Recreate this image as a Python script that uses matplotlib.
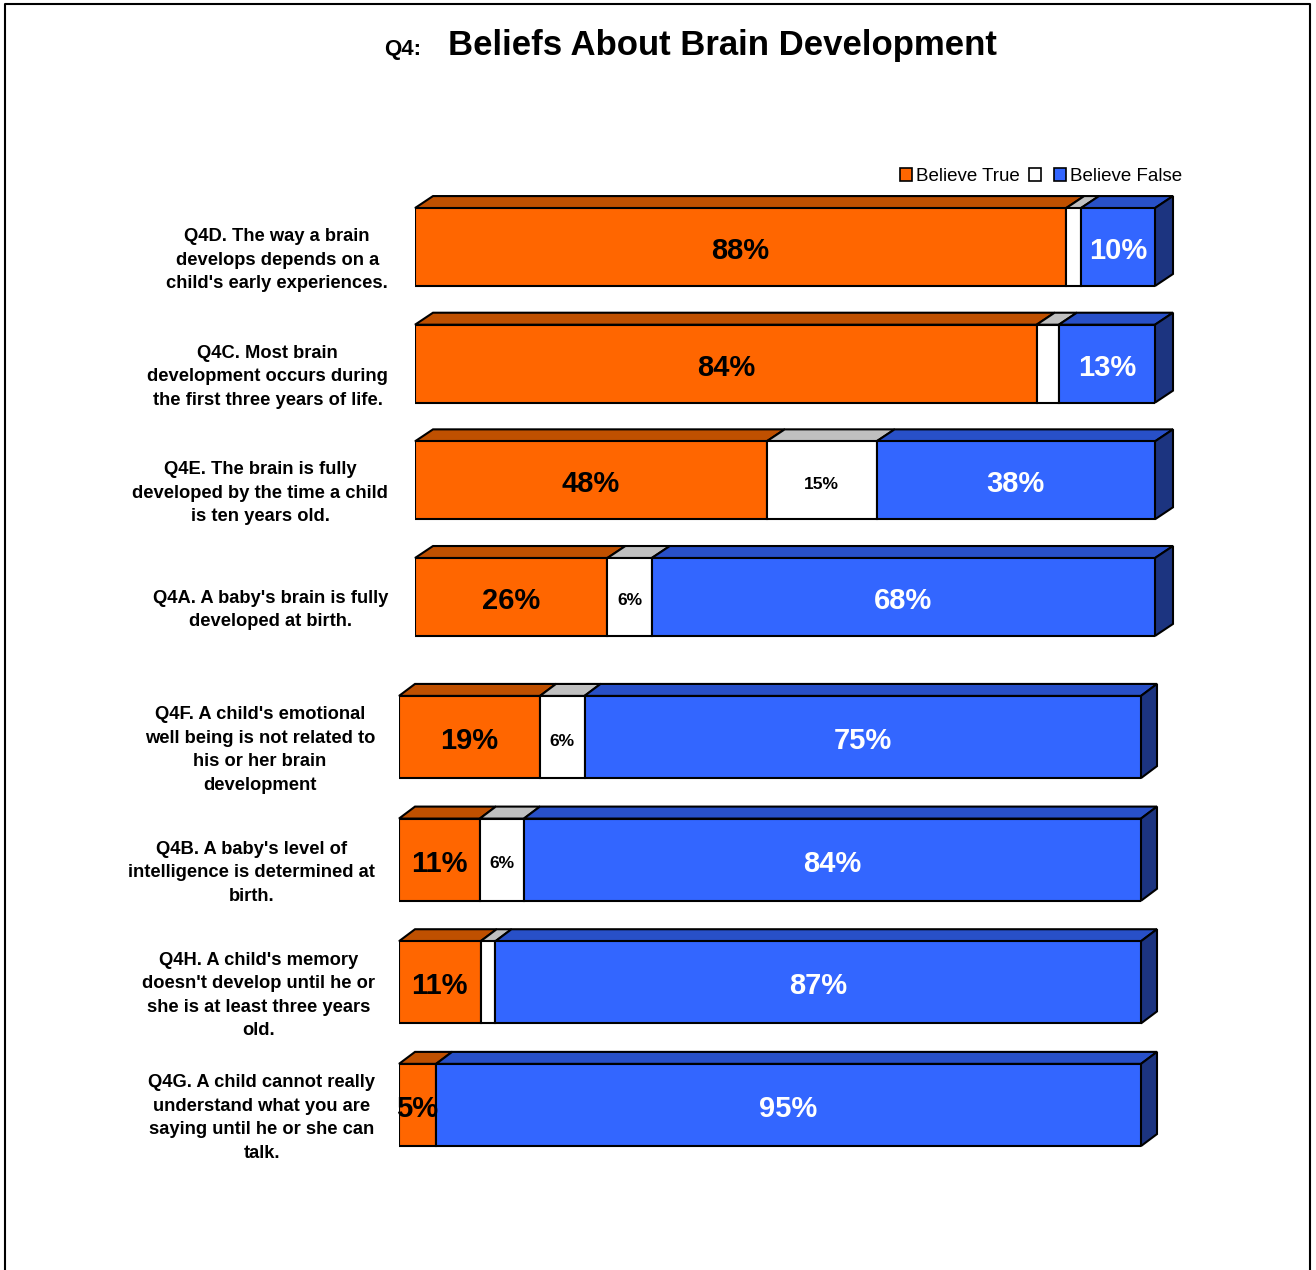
import matplotlib
matplotlib.use('Agg')
import matplotlib.pyplot as plt
from matplotlib.patches import Polygon, Patch
from matplotlib.lines import Line2D
from matplotlib import transforms

plt.rcParams['font.family'] = ['Liberation Sans', 'DejaVu Sans']

# survey items, in the order they are drawn (top to bottom)
questions = [
    "Q4D. The way a brain\ndevelops depends on a\nchild's early experiences.",
    "Q4C. Most brain\ndevelopment occurs during\nthe first three years of life.",
    "Q4E. The brain is fully\ndeveloped by the time a child\nis ten years old.",
    "Q4A. A baby's brain is fully\ndeveloped at birth.",
    "Q4F. A child's emotional\nwell being is not related to\nhis or her brain\ndevelopment",
    "Q4B. A baby's level of\nintelligence is determined at\nbirth.",
    "Q4H. A child's memory\ndoesn't develop until he or\nshe is at least three years\nold.",
    "Q4G. A child cannot really\nunderstand what you are\nsaying until he or she can\ntalk.",
]
true_pct = [88, 84, 48, 26, 19, 11, 11, 5]
mid_pct = [2, 3, 15, 6, 6, 6, 2, 0]
false_pct = [10, 13, 38, 68, 75, 84, 87, 95]

top_group = [0, 1, 2, 3]
bottom_group = [4, 5, 6, 7]

front = ['#FF6600', '#FFFFFF', '#3366FF']
roof = ['#BF5000', '#C0C0C0', '#2850C8']
side_color = '#1C3480'
text_color = ['black', 'black', 'white']

W, H = 1316, 1270
fig = plt.figure(figsize=(W / 100, H / 100), dpi=100)


def panel(left, top, right, bottom):
    return fig.add_axes([left / W, 1 - bottom / H, (right - left) / W, (bottom - top) / H])


def draw_group(ax, idx, dx_px, dy_px, bar_h, label_dx_px):
    n = len(idx)
    ax.set_xlim(0, 100)
    ax.set_ylim(n - 0.5, -0.5)
    ax.axis('off')
    box = ax.get_position()
    dx = dx_px * 100 / (box.width * W)
    dy = dy_px * n / (box.height * H)
    lab_tr = transforms.blended_transform_factory(ax.transAxes, ax.transData) + \
        transforms.ScaledTranslation(label_dx_px / 100, -13 / 100, fig.dpi_scale_trans)
    val_tr = ax.transData + transforms.ScaledTranslation(0, -4 / 100, fig.dpi_scale_trans)
    for row, i in enumerate(idx):
        vals = [true_pct[i], mid_pct[i], false_pct[i]]
        total = sum(vals)
        yt, yb = row - bar_h / 2, row + bar_h / 2
        left = 0
        for k, v in enumerate(vals):
            w = v * 100 / total
            if w == 0:
                continue
            ax.barh(row, w, left=left, height=bar_h, color=front[k],
                    edgecolor='black', linewidth=1.5, zorder=2)
            ax.add_patch(Polygon([(left, yt), (left + w, yt), (left + w + dx, yt - dy),
                                  (left + dx, yt - dy)], closed=True, facecolor=roof[k],
                                 edgecolor='black', lw=1.5, clip_on=False, zorder=1))
            if k == 1:
                if v >= 5:
                    ax.text(left + w / 2, row, f'{v}%', transform=val_tr, ha='center',
                            va='center', fontsize=12.5, fontweight='bold', color='black',
                            zorder=3)
            else:
                ax.text(left + w / 2, row, f'{v}%', transform=val_tr, ha='center',
                        va='center', fontsize=21, fontweight='bold', color=text_color[k],
                        zorder=3)
            left += w
        ax.add_patch(Polygon([(100, yt), (100 + dx, yt - dy), (100 + dx, yb - dy), (100, yb)],
                             closed=True, facecolor=side_color, edgecolor='black',
                             lw=1.5, clip_on=False, zorder=1))
        ax.text(0, row, questions[i], transform=lab_tr, ha='right', va='center',
                multialignment='center', fontsize=13.2, fontweight='bold', linespacing=1.5)


ax1 = panel(415, 188.7, 1155, 655.3)
draw_group(ax1, top_group, 18, 12, 0.668, -27)

ax2 = panel(399, 675.7, 1141, 1166.3)
draw_group(ax2, bottom_group, 16, 12, 0.67, -24)

# title
fig.text(384 / W, 1 - 55 / H, 'Q4:', fontsize=16, fontweight='bold', va='baseline')
fig.text(448 / W, 1 - 55 / H, 'Beliefs About Brain Development', fontsize=25,
         fontweight='bold', va='baseline')

# legend
handles = [Patch(facecolor=c, edgecolor='black', linewidth=1.2) for c in front]
fig.legend(handles, ['Believe True', '', 'Believe False'], loc='upper right',
           bbox_to_anchor=(1182 / W, 1 - 168 / H), ncol=3, frameon=False, fontsize=13.5,
           handlelength=0.65, handleheight=0.65, handletextpad=0.2, columnspacing=0.5,
           borderpad=0, borderaxespad=0)

# outer frame (open at the bottom)
fig.add_artist(Line2D([5 / W, 5 / W, 1310 / W, 1310 / W], [0, 1 - 4 / H, 1 - 4 / H, 0],
                      color='black', lw=1.5))

fig.savefig('out.png', dpi=100, facecolor='white')
